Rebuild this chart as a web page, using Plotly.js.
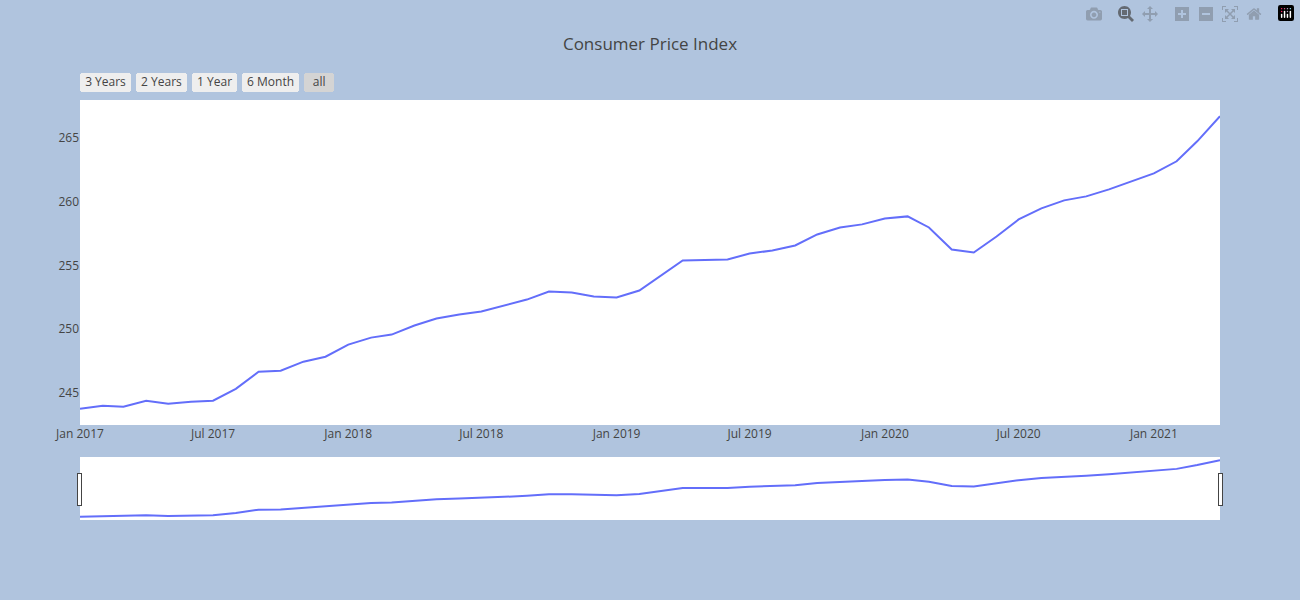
<!DOCTYPE html>
<html>
<head>
<meta charset="utf-8">
<script src="https://cdn.plot.ly/plotly-3.0.1.min.js"></script>
</head>
<body style="margin:0">
<div id="chart" style="width:1300px;height:600px"></div>
<script>
// monthly CPI, Jan 2017 - Apr 2021
let dates = [];
for (let y = 2017; y <= 2021; y++) {
    for (let m = 1; m <= 12; m++) {
        if (y === 2021 && m > 4) break;
        dates.push(y + "-" + String(m).padStart(2, "0") + "-01");
    }
}
let cpi = [
    243.74, 243.98, 243.90, 244.37, 244.13, 244.29, 244.37, 245.31, 246.65, 246.73, 247.44, 247.83,
    248.78, 249.33, 249.57, 250.28, 250.83, 251.14, 251.38, 251.85, 252.32, 252.95, 252.87, 252.56,
    252.48, 253.03, 254.13, 255.39, 255.43, 255.47, 255.94, 256.18, 256.57, 257.44, 257.99, 258.23,
    258.70, 258.86, 257.99, 256.26, 256.02, 257.28, 258.62, 259.49, 260.12, 260.43, 260.98, 261.61,
    262.24, 263.19, 264.76, 266.73
];

let trace = {
    x: dates,
    y: cpi,
    type: "scatter",
    mode: "lines",
    line: {color: "#636efa", width: 2}
};

let layout = {
    title: {text: "Consumer Price Index", font: {size: 17}},
    paper_bgcolor: "lightsteelblue",
    plot_bgcolor: "white",
    showlegend: false,
    margin: {l: 80, r: 80, t: 100, b: 80},
    xaxis: {
        showgrid: false,
        rangeselector: {
            buttons: [
                {count: 3, label: "3 Years", step: "year", stepmode: "backward"},
                {count: 2, label: "2 Years", step: "year", stepmode: "backward"},
                {count: 1, label: "1 Year", step: "year", stepmode: "backward"},
                {count: 6, label: "6 Month", step: "month", stepmode: "backward"},
                {step: "all"}
            ]
        },
        rangeslider: {visible: true, bgcolor: "white"}
    },
    yaxis: {showgrid: false, zeroline: false}
};

Plotly.newPlot("chart", [trace], layout);
</script>
</body>
</html>
